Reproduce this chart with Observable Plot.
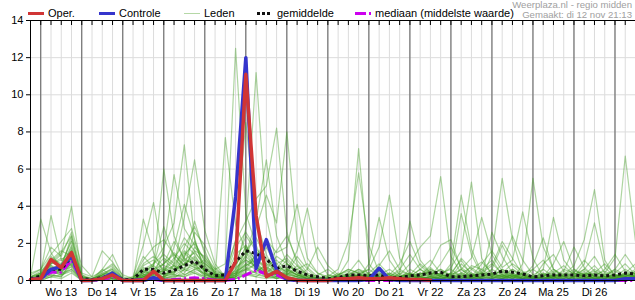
<!DOCTYPE html>
<html><head><meta charset="utf-8">
<script src="https://cdn.jsdelivr.net/npm/d3@7"></script>
<script src="https://cdn.jsdelivr.net/npm/@observablehq/plot@0.6"></script>
<style>
body{margin:0;background:#fff;font-family:"Liberation Sans",Arial,sans-serif}
#wrap{position:relative;width:635px;height:300px;overflow:hidden}
#wrap svg{position:absolute;left:0;top:0}
.s{position:absolute;height:3px}
.t{position:absolute;font-size:11px;line-height:12px;color:#000;white-space:nowrap}
.r{position:absolute;right:3px;font-size:9.6px;line-height:9px;height:9px;overflow:visible;color:#a0a0a0;white-space:nowrap;text-align:right}
</style></head><body>
<div id="wrap">
</div>
<script>
// ---- data (6-hourly steps starting 12 nov 18:00) ----
const dayLabels = ["Wo 13","Do 14","Vr 15","Za 16","Zo 17","Ma 18","Di 19","Wo 20","Do 21","Vr 22","Za 23","Zo 24","Ma 25","Di 26"];
const yTicks = [0,2,4,6,8,10,12,14];

const oper = [0.05,0.1,1.13,0.7,1.5, 0,0.02,0.1,0.3, 0,0,0,0.5, 0,0,0,0, 0,0,0,1.0, 11.1,3.5,0.2,0.5, 0.15,0.02,0,0, 0,0.1,0.1,0.15, 0.1,0.1,0.15,0.1, 0.05,0.05,0.02];
const controle = [0.05,0.1,0.6,0.75,1.3, 0,0,0.1,0.4, 0,0,0,0.15, 0,0,0,0, 0,0,0,4.5, 12.0,0.65,2.2,0.55, 0.05,0,0,0, 0,0,0,0, 0.05,0.66,0.05,0, 0,0,0,0, 0,0,0,0, 0,0,0,0, 0,0,0,0, 0,0,0,0, 0,0.1,0.1];
const gemiddelde = [0.1,0.23,0.6,0.6,1.3, 0.1,0.05,0.15,0.35, 0.05,0.05,0.6,0.6, 0.4,0.55,0.8,1.05, 0.6,0.25,0.3,1.0, 1.6,1.45,1.15,0.65, 0.8,0.5,0.3,0.2, 0.1,0.15,0.3,0.3, 0.25,0.3,0.15,0.15, 0.25,0.3,0.4,0.45, 0.2,0.2,0.25,0.3, 0.35,0.5,0.45,0.35, 0.2,0.25,0.3,0.3, 0.3,0.25,0.3,0.25, 0.3,0.4,0.35];
const mediaan = [0.05,0.1,0.45,0.45,1.1, 0,0,0.05,0.2, 0,0,0.05,0.05, 0,0.05,0.1,0.15, 0.1,0.02,0.02,0.05, 0.3,0.55,0.35,0.3, 0.05,0,0,0, 0,0,0,0, 0,0,0,0, 0,0,0,0, 0,0,0,0, 0,0,0,0, 0,0,0,0, 0,0,0,0, 0,0,0];

const m01 = [0.1, 0.3,1.2,0.9,2.1, 0.1,0,0.4,0.6, 0,0,0.8,1.1, 0.6,1.2,2.0,1.4, 0.5,0.1,0,0.9, 2.4,1.6,0.8,0.3, 0.6,0.3,0.1,0, 0,0.1,0.3,0.2, 0,0.1,0.4,0.2, 0.1,0,0.3,0.6, 0.2,0,0.1,0.4, 0.8,2.1,1.2,0.3, 0,0.1,0.2,0, 0,0.3,0.5,0.2, 0.1,0.4,0.2];
const m02 = [0.2, 3.3,1.5,0.6,1.8, 0,0,0.2,0.3, 0,0,0.4,0.9, 1.8,3.1,7.3,2.2, 0.4,0,0.2,1.4, 1.9,0.7,0.4,0.1, 0.3,0.8,0.2,0, 0,0.2,1.1,7.1, 0.9,0.2,0,0.1, 0,0.2,0.1,0, 0.3,0.6,0.2,0, 0.1,0.4,0.9,0.5, 0.2,0,0,0.3, 0.6,0.2,0,0.4, 1.2,6.7,2.1];
const m03 = [0, 0.4,3.5,1.1,1.6, 0.2,0,0.1,0.5, 0,0.1,1.3,0.7, 6.0,2.4,1.1,0.9, 0.3,0.2,0.1,0.6, 2.8,11.2,3.4,0.9, 0.4,0.2,0,0, 0.1,0,0,0.2, 0.4,0.9,0.3,0, 0,0.1,0.6,0.3, 0.2,0.9,0.4,0.1, 1.4,5.5,2.2,0.4, 0.1,0,0.3,0.2, 0,0.1,0.4,0.9, 0.3,0.1,0];
const m04 = [0.1, 0.2,0.9,1.4,4.0, 0.3,0.1,0.6,0.2, 0,0,0.2,0.6, 0.3,0.5,1.2,3.2, 1.4,0.6,0.9,12.5, 3.6,1.9,0.6,0.2, 0.5,0.2,0.1,0, 0,0.3,0.6,0.4, 0.2,0.1,0,0.3, 0.9,1.8,2.4,5.6, 1.3,0.4,0.2,0, 0,0.1,0.3,0.1, 0.6,1.1,0.4,0, 0.2,0.5,0.1,0, 0,0.2,0.5];
const m05 = [0, 0.1,0.6,0.4,1.2, 0,0,0.3,0.4, 0,0,0.5,0.3, 1.6,5.7,2.8,1.9, 0.8,0.3,0.4,2.1, 3.2,4.4,5.1,8.2, 2.6,0.9,0.3,0.1, 0,0,0.2,0.5, 0.3,0,0.1,0, 0,0.4,0.2,0.1, 0,0.1,0.6,1.0, 0.4,0.2,0,0.9, 5.5,1.8,0.6,0.2, 0,0.1,0.3,0.1, 0.4,0.9,0.3];
const m06 = [0.2, 0.5,1.0,0.7,2.4, 0.1,0,0,0.2, 0,0,0.3,0.4, 0.2,0.9,3.4,6.5, 2.7,0.9,0.2,0.4, 1.2,2.8,4.6,3.1, 8.0,2.2,0.7,0.2, 0.1,0,0.3,0.2, 0,0.2,0.1,0.4, 0.2,0,0.1,0.3, 0.7,1.6,5.3,1.2, 0.3,0.1,0.2,0, 0,0.3,0.1,0.6, 0.4,0.2,0,0.1, 0.3,0.2,0.1];
const m07 = [0.1, 0.2,0.4,0.8,1.1, 0,0,0.1,0.1, 0,0.2,1.9,4.2, 1.1,0.6,0.9,1.2, 0.4,0.1,7.7,3.0, 1.6,0.8,0.3,0.5, 1.1,0.4,0.2,0, 0,0.1,0.2,0.4, 0.6,1.8,4.6,1.2, 0.3,0.1,0,0.2, 0.4,0.3,0.1,0, 0.2,0.6,0.3,0.1, 0,0.2,0.6,0.3, 0.8,2.2,4.9,1.1, 0.2,0,0.3];
const m08 = [0, 0.3,0.7,0.5,0.9, 0.2,0.1,0.3,0.7, 0.1,0,3.3,1.5, 0.4,0.3,0.6,0.8, 0.2,0,0.3,2.2, 8.5,3.3,1.4,0.3, 0.2,0.1,0,0.1, 0.3,0.2,0,0, 0.1,0.3,0.2,0.5, 0.3,0.1,0,0.2, 0.9,4.6,1.7,0.4, 0.2,0.6,0.3,0.1, 0,0,0.4,0.8, 0.3,0.1,0.2,0, 0.1,0.3,0.6];
const m09 = [0.3, 0.6,1.8,1.3,2.6, 0.4,0.2,1.6,1.0, 0.1,0,0.6,0.2, 0.1,0.8,1.5,0.9, 0.6,0.3,0.1,0.4, 1.4,3.2,6.5,2.4, 0.9,0.4,0.1,0, 0.2,0.6,2.1,5.8, 1.9,0.4,0.1,0, 0,0.2,0.1,0.3, 0.1,0,0.2,0.6, 1.1,0.3,0.1,0, 0.2,0.4,0.1,0, 0,0.3,0.8,0.2, 0.1,0,0.2];
const m10 = [0, 0.1,0.3,0.2,0.8, 0,0,0.6,1.4, 0.2,0,0.2,0.3, 0.9,1.4,0.8,2.6, 1.9,0.7,0.2,0.3, 0.9,1.3,2.2,1.5, 1.8,4.1,1.2,0.4, 0.1,0,0.1,0.3, 0.2,0.1,0.4,0.1, 0,0.2,0.5,0.2, 0.1,0.3,0.2,0.9, 1.6,0.7,1.1,3.7, 1.2,0.2,0,0.1, 0.3,0.6,0.2,0, 0,0.1,0.4];
const m11 = [0.1, 0.2,1.1,1.6,1.3, 0.1,0,0.2,0.4, 0,0.1,0.7,0.5, 0.3,0.2,0.4,1.1, 0.9,0.4,0.1,0.2, 0.6,0.9,1.8,0.7, 0.5,1.6,3.9,1.2, 0.3,0.1,0,0.2, 0.1,0.4,0.3,0.1, 0.2,0.6,0.3,0, 0.4,3.6,1.4,0.3, 0.1,0,0.2,0.4, 0.6,0.2,0.1,0, 0.2,0.9,3.1,0.7, 0.2,0.1,0];
const m12 = [0, 0.1,0.2,0.6,1.7, 0,0,0,0.2, 0,0,0.2,0.1, 0.2,0.1,0.6,1.8, 1.2,0.6,0.2,0.1, 0.4,0.2,0.6,1.3, 0.9,0.4,0.2,0.1, 0,0.1,0.2,0.1, 0.9,3.4,1.1,0.3, 0.1,0,0.2,0.1, 0.2,0.6,1.2,3.4, 1.4,0.5,0.2,0.1, 0,0.6,3.4,1.1, 0.4,0.2,0,0.1, 0.3,0.2,0.4];
const m13 = [0.2, 0.4,0.6,0.9,1.4, 0,0,0.1,0.3, 0,0.1,0.3,0.6, 1.2,0.8,0.5,0.7, 0.6,0.3,0.1,0.2, 0.8,1.2,0.7,0.5, 0.6,0.3,0.2,0.1, 0,0.2,0.1,0, 0.2,0.1,0,0.4, 3.2,1.1,0.4,0.2, 0,0.1,0.3,0.2, 2.6,1.3,0.4,0.1, 0.2,0.1,0,0.2, 0.5,0.3,0.1,0, 0.2,0.6,0.3];
const m14 = [0, 0.1,0.5,0.3,0.9, 0,0,0.2,0.3, 0,0,0.1,0.4, 0.5,1.1,2.3,1.6, 0.7,0.2,0,0.6, 1.3,0.7,0.3,0.2, 0.4,0.2,0.1,0, 0,0,0.1,0.3, 0.6,0.2,0.1,0, 0,0.3,0.8,1.9, 2.2,0.6,0.2,0.1, 0,0.2,0.5,0.3, 0.1,0,0.2,0.1, 0,0.1,0.2,0.6, 1.4,0.5,0.2];
const m15 = [0.1, 0.2,0.8,0.4,0.6, 0.1,0,0.3,0.2, 0,0,0.2,0.3, 0.2,0.4,0.7,0.9, 0.3,0.1,0.2,1.8, 2.6,1.7,1.1,0.4, 0.2,0.1,0,0, 0.1,0.3,0.5,0.2, 0,0.1,0.2,0.6, 1.4,0.6,0.2,0.1, 0,0,0.2,0.4, 0.3,0.9,2.4,1.1, 0.3,0.1,0,0, 0.2,0.4,0.3,0.1, 0,0.2,0.1];
const m16 = [0, 0.3,0.4,0.7,1.9, 0.2,0,0,0.1, 0,0,0.1,0.2, 0.4,1.8,4.1,2.3, 0.4,0.1,0.3,0.5, 1.6,2.3,1.2,0.6, 0.7,0.3,0.1,0, 0,0.1,0.4,1.1, 0.3,0.1,0,0.2, 0.3,0.2,0.1,0, 0.1,0.4,0.7,0.3, 0.2,0.1,0,0.2, 0.8,2.3,0.6,0.2, 0.1,0,0.2,0.3, 0.5,0.2,0.1];
const m17 = [0.1, 0.2,0.9,1.1,0.8, 0,0,0.1,0.2, 0,0,0.4,0.8, 2.9,1.2,0.6,0.4, 0.2,0.1,0,0.3, 0.7,0.4,0.9,1.6, 2.4,1.1,0.4,0.2, 0.1,0,0,0.1, 0.2,0.5,0.3,0.1, 0,0.1,0.2,0.4, 0.6,0.2,0.1,0, 0.1,0.3,0.6,0.2, 0,0.1,0.2,0.4, 0.2,0.6,1.3,0.4, 0.1,0,0.1];
const m18 = [0, 0,0.2,0.3,0.5, 0,0,0,0.1, 0,0,0,0.1, 0.1,0.2,0.3,0.6, 0.4,0.2,0.1,0.4, 0.9,0.6,0.3,0.1, 0.2,0.1,0,0, 0,0.1,0.2,0.3, 0.1,0,0.1,0.2, 0.4,0.2,0.1,0, 0,0.2,0.1,0.1, 0.3,0.2,0.1,0, 0.1,0.2,0.5,0.2, 0.1,0,0.1,0.2, 0.3,0.2,0.4];
const m19 = [0.4, 0.6,1.4,2.1,2.8, 0.8,0.2,0.5,0.9, 0.3,0.1,0.9,1.3, 0.8,0.6,1.4,2.0, 1.1,0.4,0.2,0.8, 1.8,1.1,0.6,0.4, 0.3,0.6,0.9,0.4, 0.2,0,0.1,0.3, 0.2,0.8,1.6,0.6, 0.3,0.1,0.2,0.9, 1.8,0.7,0.3,0.1, 0,0.1,0.4,0.2, 0.1,0.3,0.2,0, 0.2,0.1,0,0.3, 0.6,1.4,0.6];
const m20 = [0, 0.1,0.3,0.2,1.0, 0,0,0.2,0.1, 0,0,0.3,0.2, 0.6,0.3,0.2,0.4, 0.1,0,0.1,0.2, 0.5,0.9,0.4,0.3, 0.4,1.3,0.6,0.1, 0,0.1,0,0.1, 0.3,0.2,0,0.1, 0.2,0.6,1.1,0.4, 0.1,0,0.1,0.3, 0.6,1.9,0.8,0.3, 0.1,0,0.2,0.5, 1.8,0.7,0.2,0.1, 0,0.1,0.2];
const m21 = [0.1, 0.2,0.7,0.5,1.5, 0.1,0,0.3,0.6, 0.1,0.2,0.6,0.9, 1.4,0.9,1.6,1.1, 0.5,0.2,0.1,0.3, 1.1,0.8,0.5,0.3, 0.2,0.1,0,0, 0.1,0.3,0.6,0.4, 0.1,0,0,0.1, 0.2,0.4,0.2,0.1, 0.3,1.2,0.6,0.2, 0.1,0.2,0.3,0.1, 0,0.2,0.9,2.1, 0.6,0.3,0.1,0, 0.2,0.3,0.2];
const m22 = [0, 0.1,0.4,0.6,0.7, 0,0,0.1,0.2, 0,0,0.1,0.3, 0.2,0.5,0.9,1.3, 0.6,0.3,0.1,0.2, 1.9,1.0,0.4,0.2, 0.1,0,0,0.1, 0.2,0.1,0.3,0.6, 0.2,0.1,0.3,0.9, 2.1,0.8,0.3,0.1, 0,0.2,0.4,0.1, 0.2,0.3,0.1,0, 0.1,0.4,0.2,0.1, 0,0.2,0.6,0.3, 0.1,0.4,0.9];
const m23 = [0.2, 0.3,0.9,1.2,1.0, 0.2,0.1,0.2,0.3, 0,0,0.2,0.5, 0.9,2.1,1.2,0.8, 1.1,0.5,0.1,0.2, 0.4,0.3,0.2,0.6, 1.4,0.8,0.3,0.1, 0,0.2,0.1,0, 0,0.3,0.6,0.2, 0.1,0.2,0.5,0.3, 0.2,0.1,0.2,0.5, 0.9,0.4,0.2,0.1, 0.3,0.6,0.2,0, 0.1,0.3,0.4,0.2, 0.3,0.1,0.2];
const m24 = [0, 0.2,0.5,0.4,1.2, 0,0,0.1,0.4, 0,0,0.5,0.8, 0.3,0.6,1.8,2.9, 1.6,0.3,0.1,0.1, 0.3,0.5,0.8,1.1, 0.6,0.3,0.1,0, 0.1,0.4,0.2,0.1, 0,0.1,0.2,0.1, 0.3,0.9,0.4,0.2, 0.1,0.2,0.8,0.6, 0.2,0.1,0.3,0.2, 0.1,0.9,1.4,0.5, 0.2,0.1,0.1,0, 0.2,0.3,0.1];
const m25 = [0.1, 0.4,1.3,0.8,2.2, 0.3,0,0.4,0.3, 0,0,0.2,0.4, 0.7,0.4,1.1,1.5, 0.9,0.5,0.3,0.4, 0.6,1.4,0.9,0.5, 0.3,0.2,0.6,1.8, 0.8,0.3,0.1,0, 0.1,0.2,0.1,0, 0.1,0.3,0.7,0.2, 0.1,0,0.3,0.2, 0.4,0.2,0.6,0.3, 0.2,0.1,0.3,0.1, 0.4,1.1,0.5,0.2, 0.1,0.2,0.5];
const m26 = [0, 0,0.2,0.1,0.4, 0,0,0,0.1, 0,0,0.1,0.2, 0.1,0.3,0.2,0.5, 0.2,0,0,0.1, 0.3,0.2,0.1,0.2, 0.1,0,0.1,0.3, 0.6,0.2,0.1,0, 0,0.2,0.1,0.3, 0.1,0,0.2,0.4, 0.3,0.1,0,0.2, 0.1,0.3,0.2,0.1, 0,0.1,0.2,0.3, 0.1,0,0.2,0.1, 0,0.1,0.3];
const m27 = [0.1, 0.3,0.8,0.6,1.6, 0.1,0,0.5,0.8, 0.1,0,0.4,0.6, 0.9,1.5,1.0,0.7, 0.3,0.1,0.4,0.9, 1.5,0.6,0.2,0.4, 0.9,0.5,0.2,0.1, 0,0.1,0.3,0.6, 0.4,0.1,0.2,0.1, 0.6,0.3,0.1,0.2, 0.4,1.1,0.3,0.1, 0.6,0.3,0.1,0.4, 0.2,0.1,0.3,0.2, 0.4,0.2,0.1,0.2, 0.6,0.3,0.2];
const m28 = [0, 0.1,0.5,0.3,0.6, 0,0,0.1,0.1, 0,0,0.2,0.4, 0.5,0.8,0.3,0.6, 0.8,0.2,0.1,0.3, 0.6,0.4,0.2,0.1, 0.3,0.2,0,0, 0.1,0,0.2,0.1, 0,0.1,0,0.2, 0.3,0.1,0,0.1, 0.2,0.4,0.2,0.1, 0,0.1,0.2,0.3, 0.1,0.2,0.1,0, 0.2,0.3,0.1,0.2, 0.1,0.2,0.1];
const m29 = [0.2, 0.4,1.0,1.5,2.4, 0.2,0.1,0.3,0.5, 0,0.1,1.1,1.8, 2.2,1.4,0.8,1.6, 1.3,0.4,0.2,0.7, 1.1,0.7,0.4,0.9, 1.2,0.6,0.3,0.1, 0,0.2,0.4,0.2, 0.3,0.1,0,0.2, 0.4,0.2,0.6,0.3, 0.1,0.3,0.2,0.4, 0.3,0.5,0.2,0.1, 0.2,0.3,0.4,0.1, 0,0.2,0.3,0.5, 0.2,0.1,0.3];
const m30 = [0, 0.2,0.6,0.8,1.3, 0.1,0,0.2,0.4, 0,0,0.3,0.5, 0.6,0.4,1.3,2.1, 1.0,0.3,0.1,0.5, 0.8,1.1,0.7,0.3, 0.5,0.3,0.1,0, 0.1,0,0.2,0.3, 0.2,0.3,0.1,0, 0.2,0.4,0.3,0.6, 0.3,0.2,0.1,0.2, 0.4,0.2,0.3,0.2, 0.1,0.2,0.1,0.3, 0.2,0.4,0.2,0.1, 0.2,0.3,0.2];
const leden = [m01,m02,m03,m04,m05,m06,m07,m08,m09,m10,m11,m12,m13,m14,m15,m16,m17,m18,m19,m20,m21,m22,m23,m24,m25,m26,m27,m28,m29,m30];

// ---- build tables ----
const STEP = 6; // hours between points, first point = 12 nov 18:00
const series = (arr, name) => arr.map((v, i) => ({h: i * STEP, v, name}));
const ledenRows = leden.flatMap((arr, k) => series(arr, "m" + k));
const endH = 59 * STEP;
const sixH = d3.range(0, endH + 1, 6);
const midnights = d3.range(6, endH + 1, 24);
const noons = dayLabels.map((_, k) => 18 + 24 * k);

const plot = Plot.plot({
  width: 635, height: 300,
  marginLeft: 30, marginRight: 0, marginTop: 20, marginBottom: 20,
  style: {fontFamily: "'Liberation Sans', Arial, sans-serif", fontSize: "11px", color: "#000", background: "transparent", overflow: "visible"},
  x: {domain: [0, endH], axis: null, label: null},
  y: {domain: [0, 14], axis: null, label: null},
  marks: [
    Plot.gridX(sixH, {stroke: "#dcdcdc", strokeOpacity: 1}),
    Plot.gridY(yTicks, {stroke: "#dcdcdc", strokeOpacity: 1}),
    Plot.gridX(midnights, {stroke: "#5a5a5a", strokeOpacity: 1}),
    Plot.line(ledenRows, {x: "h", y: "v", z: "name", stroke: "#3f9a20", strokeOpacity: 0.42, strokeWidth: 1.2}),
    Plot.line(series(mediaan), {x: "h", y: "v", stroke: "#cc00ee", strokeWidth: 3, strokeDasharray: "10,3,2,3", strokeLinecap: "butt", strokeLinejoin: "miter"}),
    Plot.line(series(gemiddelde), {x: "h", y: "v", stroke: "#111", strokeWidth: 3, strokeDasharray: "3,3", strokeLinecap: "butt", strokeLinejoin: "miter"}),
    Plot.line(series(controle), {x: "h", y: "v", stroke: "#3535cc", strokeWidth: 3.5}),
    Plot.line(series(oper), {x: "h", y: "v", stroke: "#d03535", strokeWidth: 3.5}),
    Plot.ruleY([0, 14], {stroke: "#000", strokeWidth: 1}),
    Plot.ruleX([0], {stroke: "#000", strokeWidth: 1}),
    Plot.axisY(yTicks, {tickSize: 4, tickPadding: 3, stroke: "#000", label: null}),
    Plot.axisX(sixH, {anchor: "bottom", tickSize: 4, tickFormat: () => "", stroke: "#000", label: null}),
    Plot.axisX(sixH, {anchor: "top", tickSize: 4, dy: 4, tickFormat: () => "", stroke: "#000", label: null}),
    Plot.axisX(noons, {anchor: "bottom", tickSize: 0, tickPadding: 8, tickFormat: d => dayLabels[(d - 18) / 24], label: null})
  ]
});
const wrap = document.getElementById("wrap");
wrap.appendChild(plot);

// ---- legend & credits ----
const legendItems = [
  {label: "Oper.", x: 28, kind: "solid", color: "#d03535"},
  {label: "Controle", x: 99, kind: "solid", color: "#3535cc"},
  {label: "Leden", x: 184, kind: "thin", color: "#b5d8a6"},
  {label: "gemiddelde", x: 257, kind: "dot", color: "#111"},
  {label: "mediaan (middelste waarde)", x: 355, kind: "dashdot", color: "#cc00ee"}
];
for (const it of legendItems) {
  const s = document.createElement("div");
  s.className = "s";
  s.style.left = it.x + "px";
  if (it.kind === "solid") { s.style.top = "11.5px"; s.style.width = "16px"; s.style.background = it.color; }
  if (it.kind === "thin") { s.style.top = "12.5px"; s.style.width = "16px"; s.style.height = "1px"; s.style.background = it.color; }
  if (it.kind === "dot") { s.style.top = "11.5px"; s.style.width = "14px"; s.style.background = `repeating-linear-gradient(90deg, ${it.color} 0 3px, transparent 3px 5px)`; }
  if (it.kind === "dashdot") { s.style.top = "11.5px"; s.style.width = "16px"; s.style.background = `linear-gradient(90deg, ${it.color} 0 11px, transparent 11px 14px, ${it.color} 14px 16px)`; }
  wrap.appendChild(s);
  const t = document.createElement("div");
  t.className = "t";
  t.style.left = (it.x + 20) + "px";
  t.style.top = "7px";
  t.textContent = it.label;
  wrap.appendChild(t);
}
const c1 = document.createElement("div"); c1.className = "r"; c1.style.top = "0px"; c1.textContent = "Weerplaza.nl - regio midden"; wrap.appendChild(c1);
const c2 = document.createElement("div"); c2.className = "r"; c2.style.top = "10px"; c2.textContent = "Gemaakt: di 12 nov 21:13"; wrap.appendChild(c2);
</script>
</body></html>
